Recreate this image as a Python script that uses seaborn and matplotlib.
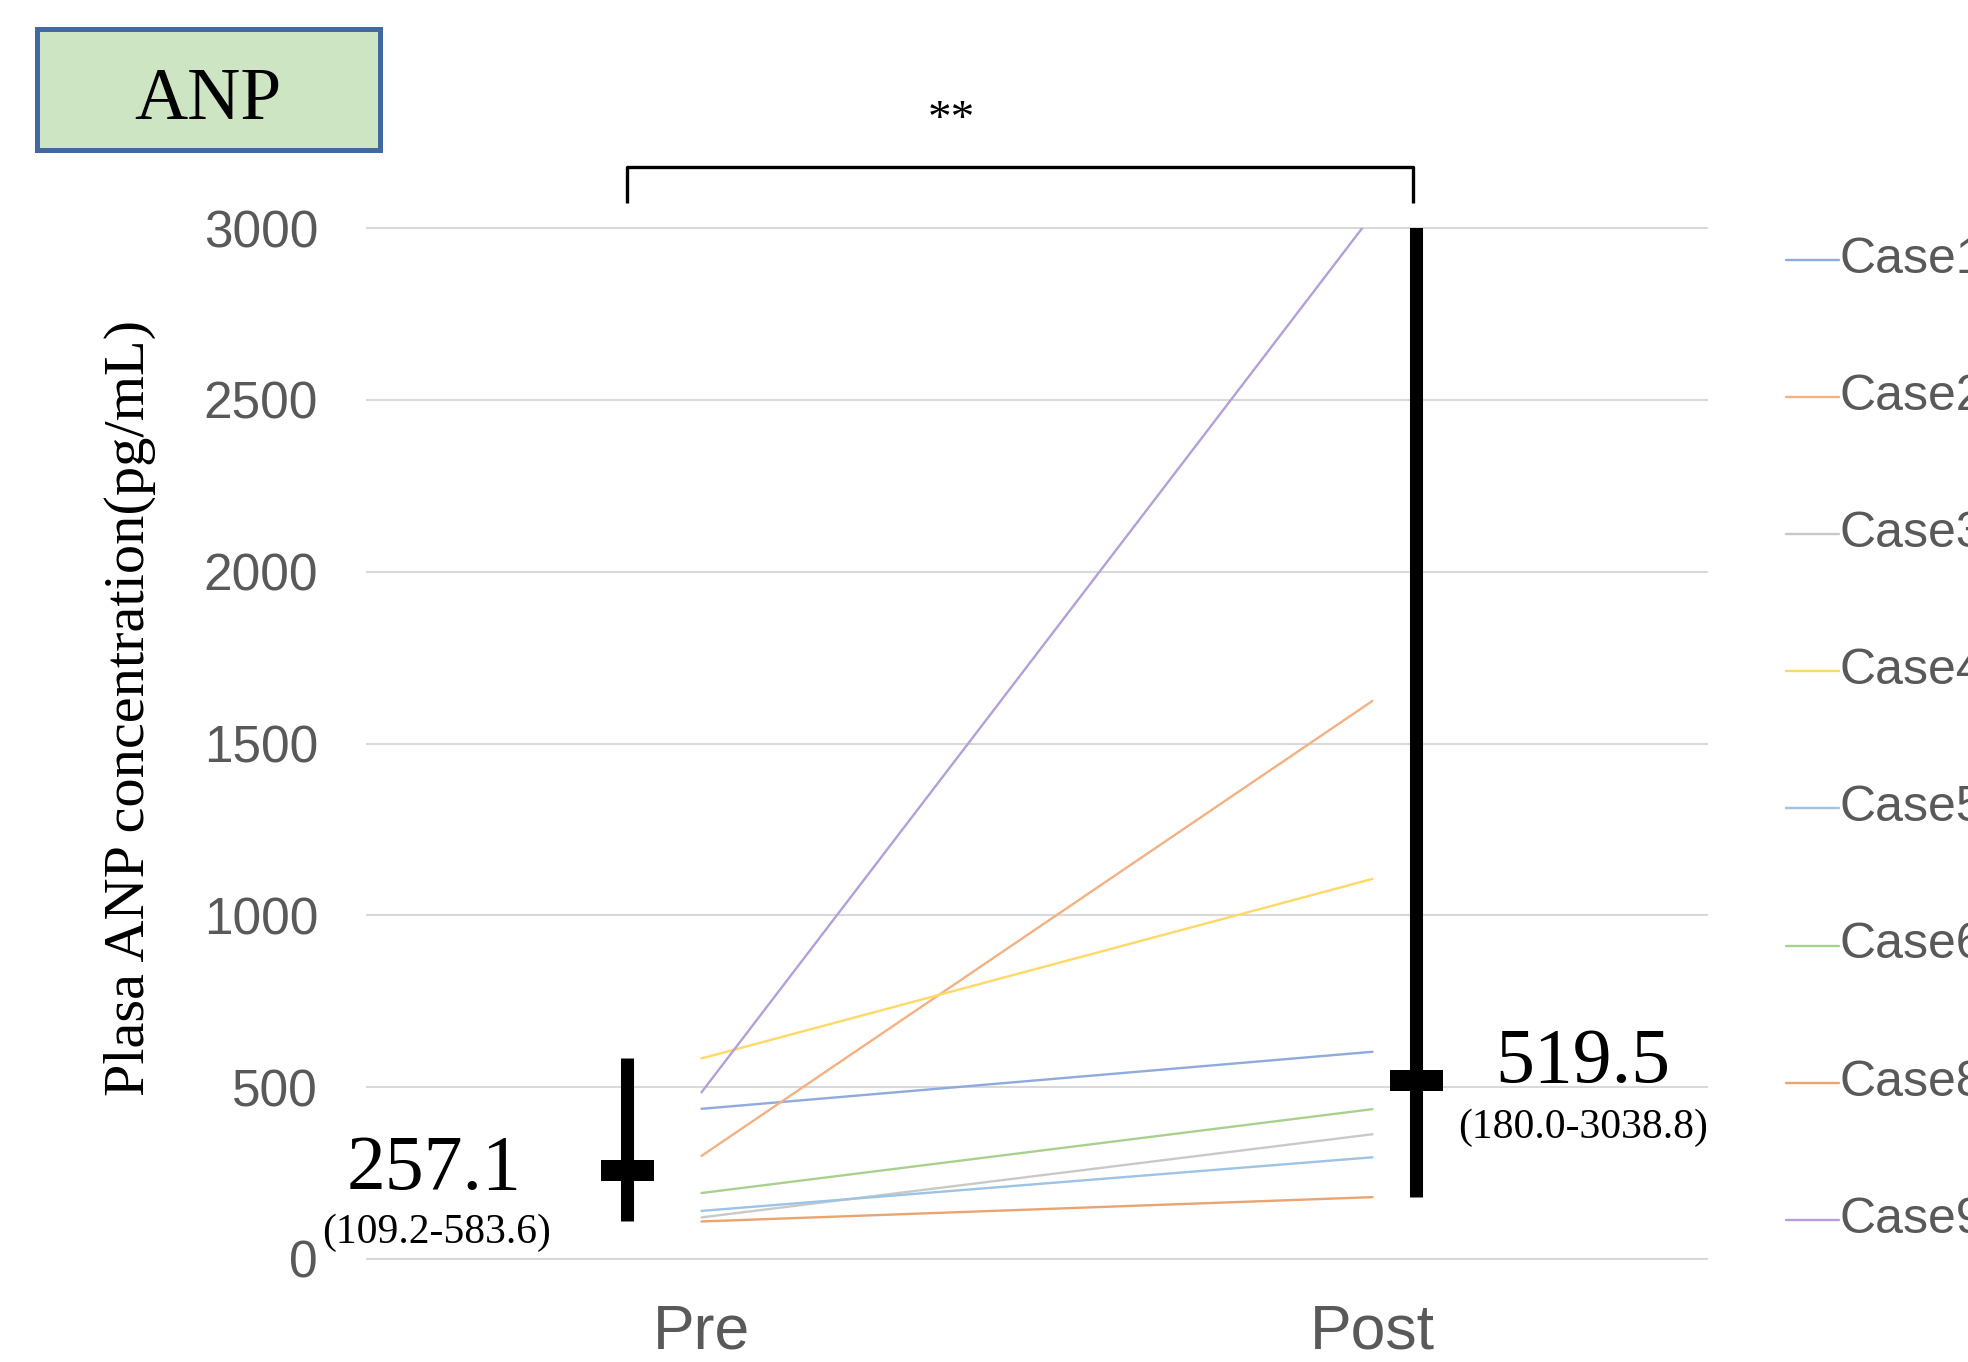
import matplotlib
matplotlib.use("Agg")
import matplotlib.pyplot as plt
from matplotlib.patches import Rectangle
from matplotlib.lines import Line2D
import pandas as pd
import seaborn as sns

# Individual cases, plasma ANP before and after
cases = ["Case1", "Case2", "Case3", "Case4", "Case5", "Case6", "Case8", "Case9"]
pre_values = [437, 300, 121, 583.6, 140, 192, 109.2, 485]
post_values = [603, 1624, 363, 1106, 296, 436, 180.0, 3038.8]
timepoints = ["Pre", "Post"]
case_colors = ["#8FAADC", "#F4B183", "#C9C9C9", "#FFD966",
               "#9DC3E6", "#A9D18E", "#EAA472", "#B49FDA"]

# Group summaries: median (range)
medians = [257.1, 519.5]
range_low = [109.2, 180.0]
range_high = [583.6, 3038.8]

y_ticks = [0, 500, 1000, 1500, 2000, 2500, 3000]

sns.set_theme(style="white")
plt.rcParams["font.family"] = ["Liberation Sans", "DejaVu Sans"]
SERIF = ["Liberation Serif", "DejaVu Serif"]

W, H = 1968, 1362
fig = plt.figure(figsize=(W / 100, H / 100), dpi=100)


def fx(px):
    return px / W


def fy(py):
    return 1 - py / H


ax = fig.add_axes([fx(366), fy(1259), (1708 - 366) / W, (1259 - 228) / H])

rows = []
for c, a, b in zip(cases, pre_values, post_values):
    rows.append({"Case": c, "t": 0, "value": a})
    rows.append({"Case": c, "t": 1, "value": b})
df = pd.DataFrame(rows)

# Gridlines
ax.hlines(y_ticks, -0.5, 1.5, colors="#D9D9D9", lw=1.5, clip_on=False, zorder=0)

sns.lineplot(data=df, x="t", y="value", hue="Case", hue_order=cases,
             palette=dict(zip(cases, case_colors)), lw=1.7, legend=False,
             ax=ax, zorder=2)

ax.set_xlim(-0.5, 1.5)
ax.set_ylim(0, 3000)
ax.set_xticks([0, 1])
ax.set_xticklabels(timepoints)
ax.set_yticks(y_ticks)
ax.set_yticklabels([str(v) for v in y_ticks])
ax.set_xlabel("")
ax.set_ylabel("")
for s in ax.spines.values():
    s.set_visible(False)
ax.tick_params(axis="y", length=0, pad=34.5, labelsize=37, labelcolor="#595959")
ax.tick_params(axis="x", length=0, pad=31, labelsize=45, labelcolor="#595959")

# Median and range marks
mark_x = [-0.111, 1.065]
cross_w = 0.079
cross_h = 60
for x, m, lo, hi in zip(mark_x, medians, range_low, range_high):
    ax.vlines(x, lo, hi, colors="black", lw=9.4, zorder=4)
    ax.add_patch(Rectangle((x - cross_w / 2, m - cross_h / 2), cross_w, cross_h,
                           facecolor="black", edgecolor="none", zorder=5))

# Median labels
fig.text(fx(434), fy(1189), f"{medians[0]:.1f}", ha="center", va="baseline",
         family=SERIF, size=56, color="black")
fig.text(fx(437), fy(1243), f"({range_low[0]:.1f}-{range_high[0]:.1f})",
         ha="center", va="baseline", family=SERIF, size=30, color="black")
fig.text(fx(1583), fy(1082), f"{medians[1]:.1f}", ha="center", va="baseline",
         family=SERIF, size=56, color="black")
fig.text(fx(1583), fy(1138), f"({range_low[1]:.1f}-{range_high[1]:.1f})",
         ha="center", va="baseline", family=SERIF, size=30, color="black")

# Significance bracket
fig.add_artist(Line2D([fx(627), fx(627), fx(1413), fx(1413)],
                      [fy(203), fy(166.5), fy(166.5), fy(203)],
                      transform=fig.transFigure, color="black", lw=2.4,
                      solid_joinstyle="round", solid_capstyle="butt"))
fig.text(fx(951), fy(121), "**", ha="center", va="center", family=SERIF,
         size=34, color="black")

# Title box
fig.add_artist(Rectangle((fx(37), fy(150)), (380 - 37) / W, (150 - 29) / H,
                         transform=fig.transFigure, facecolor="#CDE5C3",
                         edgecolor="#41699F", lw=3.6))
fig.text(fx(208), fy(101), "ANP", ha="center", va="center", family=SERIF,
         size=53, color="black")

# Y-axis title
fig.text(fx(130), fy(708), "Plasa ANP concentration(pg/mL)", rotation=90,
         ha="center", va="center", family=SERIF, size=42, color="black")

# Legend
for i, (c, col) in enumerate(zip(cases, case_colors)):
    y = fy(260 + i * 137.1)
    fig.add_artist(Line2D([fx(1786), fx(1839)], [y, y], transform=fig.transFigure,
                          color=col, lw=1.7))
    fig.text(fx(1840), y, c, ha="left", va="center", size=36, color="#595959")

fig.savefig("out.png", dpi=100)
